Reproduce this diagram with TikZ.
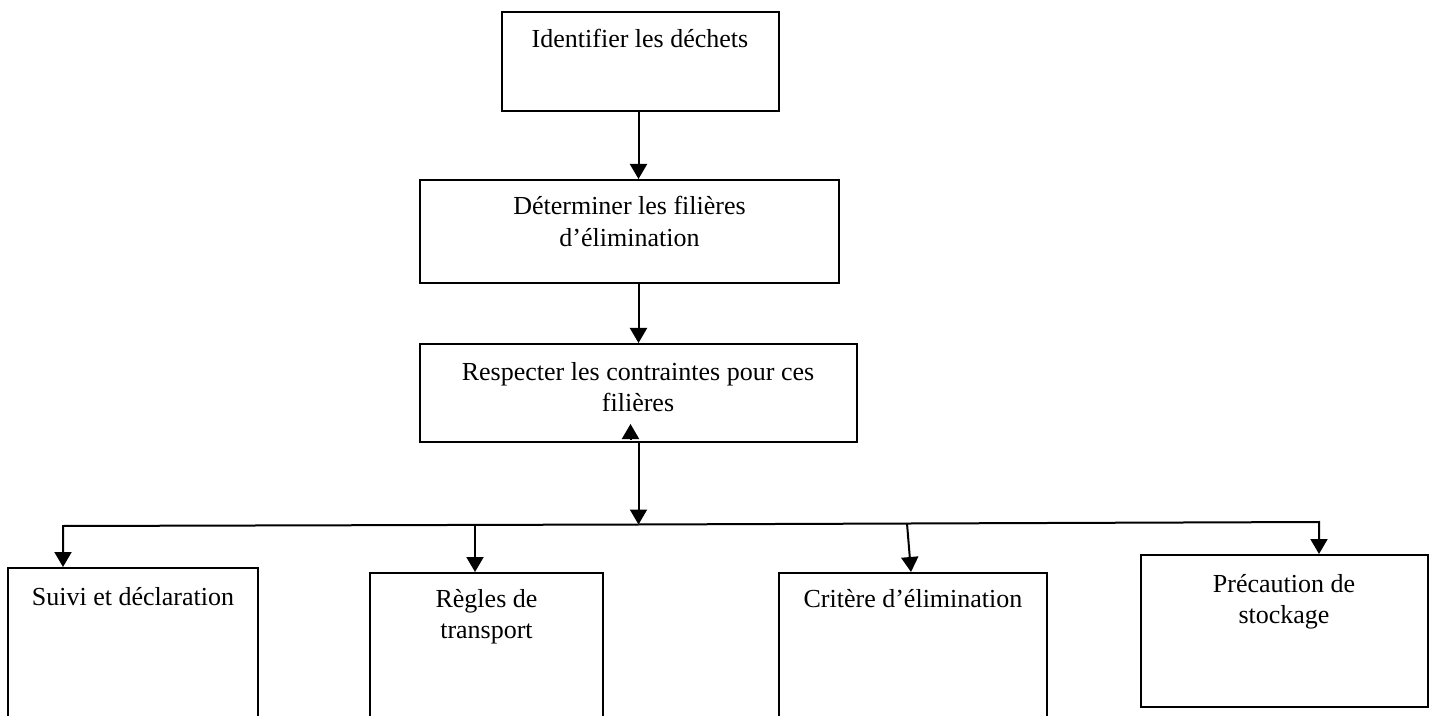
\documentclass[tikz,border=0pt]{standalone}
\usepackage{fontspec}
\setmainfont{Liberation Serif}
\usetikzlibrary{arrows.meta,fit,calc}
\newcommand{\mylines}[2]{\begin{tabular}[t]{@{}c@{}}#1\\#2\end{tabular}}
\begin{document}
\begin{tikzpicture}[x=0.5pt,y=-0.5pt,
  box/.style={draw, line width=1pt, inner sep=0pt},
  txt/.style={inner sep=0pt, anchor=base, font=\fontsize{13}{15.75}\selectfont},
  arr/.style={line width=1pt, -{Triangle[length=7.5pt,width=8.5pt]}},
  bar/.style={line width=1.1pt}
  ]
\useasboundingbox (0,0) rectangle (1434,716);
% boxes
\node[box, fit={(502,12) (779,111)}] (b1) {};
\node[box, fit={(420,180) (839,283)}] (b2) {};
\node[box, fit={(420,344) (857,442)}] (b3) {};
\node[box, fit={(8,568) (258,760)}] (b4) {};
\node[box, fit={(370,573) (603,760)}] (b5) {};
\node[box, fit={(779,573) (1047,760)}] (b6) {};
\node[box, fit={(1141,555) (1428,707)}] (b7) {};
% texts
\node[txt] (t1) at (640,48) {Identifier les déchets};
\node[txt] (t2) at (629.5,215) {\mylines{Déterminer les filières}{d’élimination}};
\node[txt] (t3) at (638,380) {\mylines{Respecter les contraintes pour ces}{filières}};
\node[txt] (t4) at (133,605) {Suivi et déclaration};
\node[txt] (t5) at (486.5,607) {\mylines{Règles de}{transport}};
\node[txt] (t6) at (913,607) {Critère d’élimination};
\node[txt] (t7) at (1284,592) {\mylines{Précaution de}{stockage}};
% bar coordinates
\coordinate (L) at (63,526);
\coordinate (R) at (1319,522);
\coordinate (hub) at (638.5,524.5);
\coordinate (d2) at (475,525);
\coordinate (d3) at (907,523.5);
% vertical chain
\draw[arr] (b3.north |- b1.south) -- (b3.north |- b2.north);
\draw[arr] (b3.north |- b2.south) -- (b3.north);
\draw[arr] (b3.south) -- (hub);
\draw[arr] ($(b3.south)+(-8,-3)$) -- ($(b3.south)+(-8,-19)$);
% bar and drops
\draw[arr, line join=miter] (hub) -- (L) -- (L |- b4.north);
\draw[arr, line join=miter] (hub) -- (R) -- (R |- b7.north);
\draw[arr] (d2) -- (d2 |- b5.north);
\draw[arr] (d3) -- ($(b6.north)+(-2,0)$);
\end{tikzpicture}
\end{document}
